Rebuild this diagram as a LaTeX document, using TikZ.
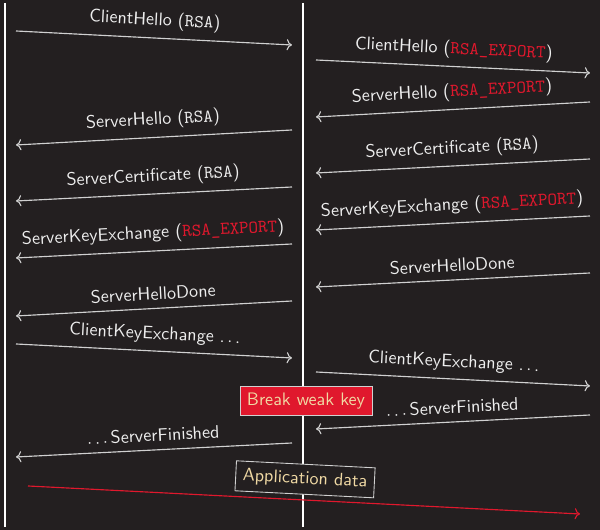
\documentclass[tikz,border=0pt]{standalone}
\usetikzlibrary{arrows.meta, positioning, calc}
\definecolor{bg}   {HTML}{231F20}
\definecolor{chalk}{HTML}{EDEDED}
\definecolor{wire} {HTML}{D0D0D0}
\definecolor{alarm}{HTML}{E0182D}
\definecolor{sand} {HTML}{F0D9A4}
\tikzset{
  life/.style  = {white, line width=1.2pt},
  msg/.style   = {->, wire, line width=0.65pt},
  bad/.style   = {msg, alarm},
  lbl/.style   = {above=1pt, sloped, text=chalk,
                  font=\sffamily\fontsize{10.3}{12}\selectfont},
  alert/.style = {draw=wire, line width=0.5pt, fill=alarm, text=sand,
                  font=\sffamily\fontsize{10.3}{12}\selectfont,
                  inner xsep=4pt, minimum height=0.58cm},
  data/.style  = {draw=wire, line width=0.5pt, fill=bg, text=sand,
                  font=\sffamily\fontsize{10.3}{12}\selectfont,
                  inner xsep=4pt, minimum height=0.6cm},
}
\begin{document}
\begin{tikzpicture}[x=0.02cm, y=0.02cm]

  \fill[bg] (0,0) rectangle (600,530);
  \useasboundingbox (0,0) rectangle (600,530);

  % lifelines
  \coordinate (ltop) at (5,527);  \coordinate (lbot) at (5,3);
  \coordinate (mtop) at (303,527); \coordinate (mbot) at (303,3);
  \draw[life] (ltop) -- (lbot);
  \draw[life] (mtop) -- (mbot);

  % honest handshake (left)
  \coordinate (a1) at (16,499);  \coordinate (b1) at (292,485);
  \coordinate (a2) at (292,400); \coordinate (b2) at (16,385);
  \coordinate (a3) at (292,343); \coordinate (b3) at (16,329);
  \coordinate (a4) at (292,286); \coordinate (b4) at (16,272);
  \coordinate (a5) at (292,229); \coordinate (b5) at (16,214);
  \coordinate (a6) at (16,186);  \coordinate (b6) at (292,172);
  \coordinate (a7) at (292,87);  \coordinate (b7) at (16,73);

  \draw[msg] (a1) -- node[lbl] {ClientHello (\texttt{RSA})} (b1);
  \draw[msg] (a2) -- node[lbl] {ServerHello (\texttt{RSA})} (b2);
  \draw[msg] (a3) -- node[lbl] {ServerCertificate (\texttt{RSA})} (b3);
  \draw[msg] (a4) -- node[lbl] {ServerKeyExchange (\textcolor{alarm}{\texttt{RSA\_EXPORT}})} (b4);
  \draw[msg] (a5) -- node[lbl] {ServerHelloDone} (b5);
  \draw[msg] (a6) -- node[lbl] {ClientKeyExchange \(\ldots\)} (b6);
  \draw[msg] (a7) -- node[lbl] {\(\ldots\)\,ServerFinished} (b7);

  % downgraded handshake (right)
  \coordinate (c1) at (316,470); \coordinate (d1) at (590,457);
  \coordinate (c2) at (590,428); \coordinate (d2) at (316,413);
  \coordinate (c3) at (590,371); \coordinate (d3) at (316,357);
  \coordinate (c4) at (590,314); \coordinate (d4) at (316,300);
  \coordinate (c5) at (590,257); \coordinate (d5) at (316,243);
  \coordinate (c6) at (316,158); \coordinate (d6) at (590,144);
  \coordinate (c7) at (590,115); \coordinate (d7) at (316,101);

  \draw[msg] (c1) -- node[lbl] {ClientHello (\textcolor{alarm}{\texttt{RSA\_EXPORT}})} (d1);
  \draw[msg] (c2) -- node[lbl] {ServerHello (\textcolor{alarm}{\texttt{RSA\_EXPORT}})} (d2);
  \draw[msg] (c3) -- node[lbl] {ServerCertificate (\texttt{RSA})} (d3);
  \draw[msg] (c4) -- node[lbl] {ServerKeyExchange (\textcolor{alarm}{\texttt{RSA\_EXPORT}})} (d4);
  \draw[msg] (c5) -- node[lbl] {ServerHelloDone} (d5);
  \draw[msg] (c6) -- node[lbl] {ClientKeyExchange \(\ldots\)} (d6);
  \draw[msg] (c7) -- node[lbl] {\(\ldots\)\,ServerFinished} (d7);

  \node[alert] (brk) at (306,129) {Break weak key};

  % attacker talks to client
  \coordinate (e1) at (28,44); \coordinate (f1) at (580,16);
  \draw[bad] (e1) -- node[data, above=3pt, sloped] (app) {Application data} (f1);

\end{tikzpicture}
\end{document}
